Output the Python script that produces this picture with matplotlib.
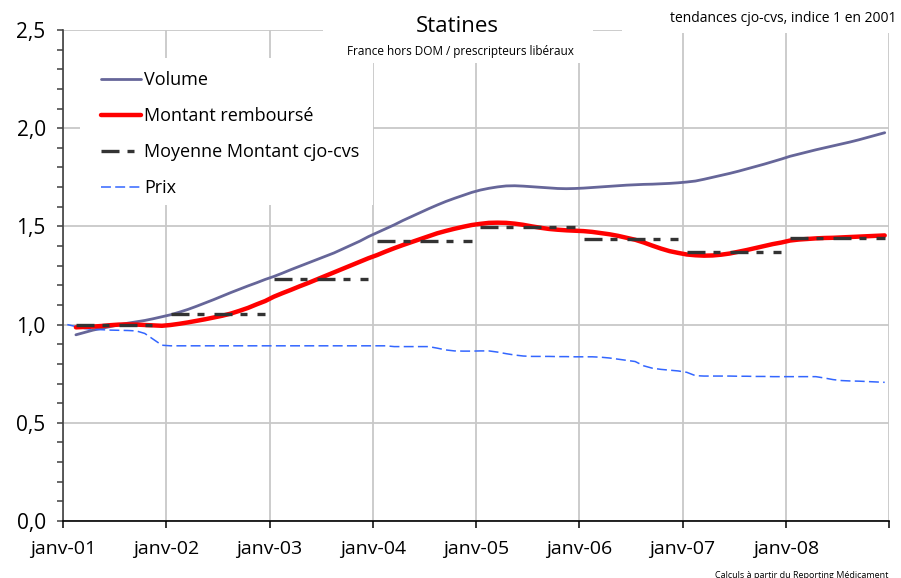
import numpy as np
import matplotlib
matplotlib.use("Agg")
import matplotlib.pyplot as plt
from matplotlib.patches import Rectangle
from matplotlib.ticker import MultipleLocator, FixedLocator

plt.rcParams['font.family'] = ['Open Sans', 'DejaVu Sans']

# ---------------- data (monthly, index 0 = janv-01) ----------------
year_labels = ['janv-01', 'janv-02', 'janv-03', 'janv-04', 'janv-05',
               'janv-06', 'janv-07', 'janv-08', '']

# Volume, from févr-01 (index 1) to déc-08 (index 95)
volume = [0.948, 0.960, 0.972, 0.981, 0.990, 0.999, 1.007, 1.014, 1.021, 1.030, 1.040,
          1.050, 1.063, 1.077, 1.093, 1.110, 1.127, 1.145, 1.163, 1.180, 1.197, 1.213, 1.230,
          1.245, 1.262, 1.280, 1.297, 1.314, 1.331, 1.348, 1.365, 1.385, 1.405, 1.425, 1.448,
          1.468, 1.488, 1.508, 1.530, 1.550, 1.570, 1.590, 1.609, 1.627, 1.643, 1.658, 1.673,
          1.685, 1.694, 1.701, 1.706, 1.707, 1.705, 1.702, 1.699, 1.696, 1.693, 1.692, 1.693,
          1.695, 1.698, 1.701, 1.704, 1.707, 1.710, 1.712, 1.714, 1.715, 1.717, 1.719, 1.722,
          1.726, 1.731, 1.740, 1.750, 1.760, 1.770, 1.781, 1.793, 1.805, 1.817, 1.830, 1.843,
          1.857, 1.868, 1.879, 1.890, 1.900, 1.910, 1.920, 1.930, 1.941, 1.953, 1.965, 1.977]

# Montant remboursé, from févr-01 to déc-08
montant = [0.986, 0.988, 0.990, 0.993, 0.997, 1.000, 1.001, 1.000, 0.998, 0.996, 0.994,
           0.998, 1.004, 1.011, 1.019, 1.027, 1.036, 1.045, 1.056, 1.070, 1.085, 1.103, 1.120,
           1.142, 1.160, 1.177, 1.195, 1.212, 1.230, 1.248, 1.266, 1.284, 1.302, 1.320, 1.338,
           1.354, 1.372, 1.389, 1.405, 1.420, 1.435, 1.450, 1.465, 1.477, 1.488, 1.498, 1.507,
           1.513, 1.518, 1.519, 1.518, 1.514, 1.508, 1.500, 1.493, 1.487, 1.483, 1.480, 1.478,
           1.476, 1.472, 1.466, 1.460, 1.452, 1.442, 1.432, 1.418, 1.402, 1.387, 1.374, 1.365,
           1.357, 1.353, 1.351, 1.352, 1.356, 1.362, 1.371, 1.380, 1.390, 1.400, 1.410, 1.418,
           1.428, 1.433, 1.436, 1.439, 1.441, 1.442, 1.444, 1.446, 1.448, 1.450, 1.452, 1.454]

# Prix, from janv-01 (index 0) to déc-08
prix = [1.000, 0.990, 0.980, 0.976, 0.974, 0.972, 0.971, 0.970, 0.968, 0.955, 0.925, 0.895,
        0.892, 0.892, 0.892, 0.892, 0.892, 0.892, 0.892, 0.892, 0.892, 0.892, 0.892, 0.892,
        0.892, 0.892, 0.892, 0.892, 0.892, 0.892, 0.892, 0.892, 0.892, 0.892, 0.892, 0.892,
        0.892, 0.892, 0.888, 0.888, 0.888, 0.888, 0.888, 0.880, 0.871, 0.866, 0.865, 0.865,
        0.866, 0.866, 0.860, 0.852, 0.845, 0.840, 0.838, 0.838, 0.838, 0.837, 0.837, 0.836,
        0.836, 0.836, 0.834, 0.830, 0.824, 0.818, 0.812, 0.790, 0.778, 0.772, 0.768, 0.764,
        0.757, 0.740, 0.738, 0.738, 0.738, 0.738, 0.737, 0.737, 0.736, 0.736, 0.735, 0.735,
        0.735, 0.735, 0.735, 0.735, 0.728, 0.720, 0.715, 0.713, 0.712, 0.710, 0.708, 0.706]

# Moyenne annuelle du montant cjo-cvs (2001..2008)
moyenne = [0.997, 1.053, 1.230, 1.428, 1.495, 1.434, 1.368, 1.439]

# ---------------- figure ----------------
W, H = 901, 578
fig = plt.figure(figsize=(W / 100, H / 100), dpi=100)
L, R, T, B = 63, 889, 30, 521
ax = fig.add_axes([L / W, 1 - B / H, (R - L) / W, (B - T) / H])

n = len(prix)
x_prix = np.arange(n) + 0.5
x_vm = np.arange(n - len(volume), n) + 0.5

ax.set_axisbelow(True)
ax.plot(x_vm, volume, color='#666699', lw=2.0, zorder=3, label='Volume',
        solid_capstyle='round')
ax.plot(x_vm, montant, color='#FF0000', lw=3.2, zorder=4, label='Montant remboursé',
        solid_capstyle='round')
first = True
for i, v in enumerate(moyenne):
    xs = x_vm[(x_vm >= i * 12) & (x_vm < (i + 1) * 12)]
    ax.plot(xs, [v] * len(xs), color='#333333', lw=2.4, zorder=5,
            dashes=(5.4, 2.4, 2.1, 3.0),
            label='Moyenne Montant cjo-cvs' if first else '_nolegend_')
    first = False
ax.plot(x_prix, prix, color='#3366FF', lw=1.1, zorder=3, dashes=(6.5, 2.8), label='Prix')

ax.set_xlim(0, 12 * (len(year_labels) - 1))
ax.set_ylim(0, 2.5)
ax.xaxis.set_major_locator(FixedLocator([12 * i for i in range(len(year_labels))]))
ax.set_xticklabels(year_labels)
ax.yaxis.set_major_locator(MultipleLocator(0.5))
ax.yaxis.set_minor_locator(MultipleLocator(0.1))
ax.yaxis.set_major_formatter(matplotlib.ticker.FuncFormatter(
    lambda v, p: f"{v:.1f}".replace('.', ',')))

ax.grid(True, which='major', color='#C8C8C8', lw=1.3)
for s in ['top', 'right']:
    ax.spines[s].set_visible(False)
ax.spines['left'].set_color('#404040')
ax.spines['left'].set_linewidth(1.2)
ax.spines['bottom'].set_color('#000000')
ax.spines['bottom'].set_linewidth(1.2)
ax.tick_params(axis='y', which='both', direction='out', length=4.5, width=1.1,
               color='#404040', labelsize=15, pad=8)
ax.tick_params(axis='x', which='major', direction='out', length=5, width=1.1,
               color='#000000', labelsize=14, pad=9)

# white boxes masking the grid behind legend and titles (axes coords from pixels)
def ax_box(x0, y0, x1, y1):
    return Rectangle(((x0 - L) / (R - L), (B - y1) / (B - T)),
                     (x1 - x0) / (R - L), (y1 - y0) / (B - T),
                     transform=ax.transAxes, facecolor='white', edgecolor='none',
                     zorder=1, clip_on=False)

ax.add_patch(ax_box(80, 58, 373, 205))
ax.add_patch(ax_box(323, 0, 593, 63))
ax.add_patch(ax_box(622, 0, 901, 33))

leg = ax.legend(loc='upper left', bbox_to_anchor=((101 - L) / (R - L), (B - 71) / (B - T)),
                frameon=False, fontsize=13, handlelength=2.2, handletextpad=0.2,
                labelspacing=1.0, borderpad=0, borderaxespad=0)

fig.text(457 / W, 1 - 27 / H, 'Statines', ha='center', va='center', fontsize=16)
fig.text(460 / W, 1 - 51 / H, 'France hors DOM / prescripteurs libéraux',
         ha='center', va='center', fontsize=8.5)
fig.text(897 / W, 1 - 19 / H, 'tendances cjo-cvs, indice 1 en 2001',
         ha='right', va='center', fontsize=10)
fig.text(888 / W, 1 - 575 / H, 'Calculs à partir du Reporting Médicament',
         ha='right', va='center', fontsize=6.5)

fig.savefig('out.png', dpi=100)
